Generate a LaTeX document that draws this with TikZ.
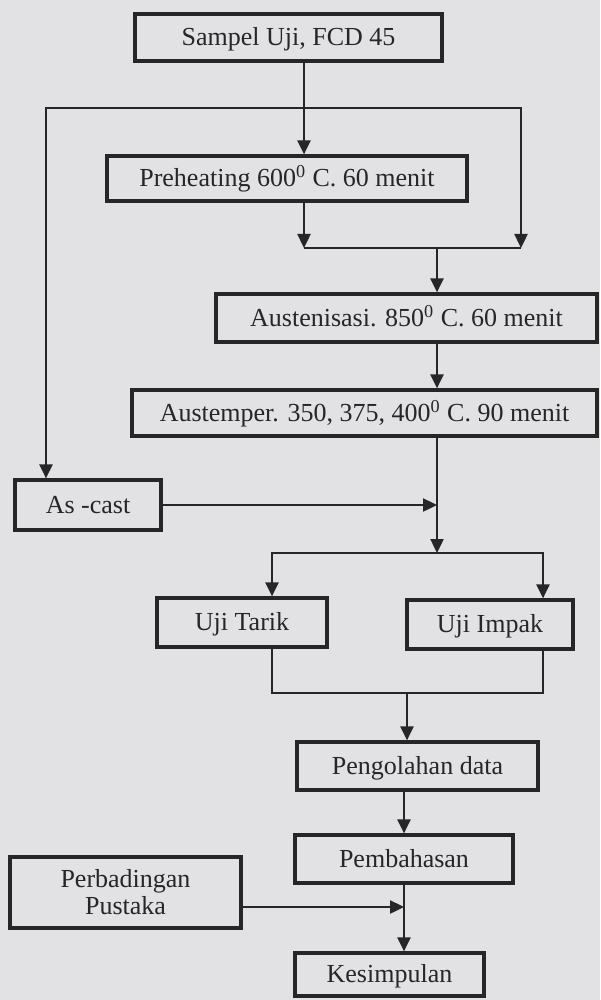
\documentclass[tikz,border=0pt]{standalone}
\usepackage{fontspec}
\setmainfont{Liberation Serif}
\usetikzlibrary{arrows.meta}
\definecolor{paper}{RGB}{226,226,229}
\definecolor{ink}{RGB}{38,38,38}
\begin{document}
\begin{tikzpicture}[x=0.5pt,y=-0.5pt,
  box/.style={draw=ink, line width=1.6pt, fill=paper, inner sep=0pt, text=ink,
    font=\fontsize{13}{13.5}\selectfont, align=center},
  one/.style={box, text height=8.5pt, text depth=0.5pt},
  sz/.style 2 args={minimum width=#1*0.5pt, minimum height=#2*0.5pt},
  line/.style={draw=ink, line width=1.2pt, line join=miter},
  arr/.style={line, -{Triangle[length=7pt,width=6.5pt]}},
  dbl/.style={line, {Triangle[length=7pt,width=6.5pt]}-{Triangle[length=7pt,width=6.5pt]}}]
\path[use as bounding box, fill=paper] (0,0) rectangle (600,1000);

\node[one, sz={307}{47}] (b1) at (288.5,37.5) {Sampel Uji, FCD 45};
\node[one, sz={360}{45}] (pre) at (287,178.5) {Preheating 600\textsuperscript{0} C. 60 menit};
\node[one, sz={381}{48}] (aus) at (406.5,318) {Austenisasi. 850\textsuperscript{0} C. 60 menit};
\node[one, sz={465}{46}] (tmp) at (364.5,413) {Austemper. 350, 375, 400\textsuperscript{0} C. 90 menit};
\node[one, sz={146}{50}] (cast) at (88,505) {As -cast};
\node[one, sz={170}{49}] (tarik) at (242,622.5) {Uji Tarik};
\node[one, sz={166}{49}] (impak) at (490,624.5) {Uji Impak};
\node[one, sz={241}{48}] (olah) at (417.5,766) {Pengolahan data};
\node[one, sz={218}{48}] (bahas) at (404,859) {Pembahasan};
\node[box, sz={231}{71}, font=\fontsize{13}{14}\selectfont] (banding) at (125.5,892.5) {Perbadingan\\[-0.5pt]Pustaka};
\node[one, sz={189}{43}] (simpul) at (389.5,974.5) {Kesimpulan};

\coordinate (tl) at (46,108);
\coordinate (tr) at (521,108);
\coordinate (ml) at (304,248);
\coordinate (mr) at (521,248);
\coordinate (mm) at (437,248);
\coordinate (j2) at (437,553);
\coordinate (j2l) at (272,553);
\coordinate (j2r) at (543,553);
\coordinate (j3l) at (272,693);
\coordinate (j3r) at (543,693);
\coordinate (j3) at (407,693);
\coordinate (jb) at (404,907);

\draw[arr] (b1.south -| ml) -- (pre.north -| ml);
\draw[dbl] (cast.north -| tl) -- (tl) -- (tr) -- (mr);
\draw[arr] (pre.south -| ml) -- (ml);
\draw[line] (ml) -- (mr);
\draw[arr] (mm) -- (aus.north -| mm);
\draw[arr] (aus.south -| mm) -- (tmp.north -| mm);
\draw[arr] (tmp.south -| j2) -- (j2);
\draw[arr] (cast.east) -- (cast.east -| j2);
\draw[dbl] (tarik.north -| j2l) -- (j2l) -- (j2r) -- (impak.north -| j2r);
\draw[line] (tarik.south -| j3l) -- (j3l) -- (j3r) -- (impak.south -| j3r);
\draw[arr] (j3) -- (olah.north -| j3);
\draw[arr] (olah.south -| bahas.north) -- (bahas.north);
\draw[arr] (bahas.south) -- (simpul.north -| bahas.south);
\draw[arr] (banding.east |- jb) -- (jb);
\end{tikzpicture}
\end{document}
